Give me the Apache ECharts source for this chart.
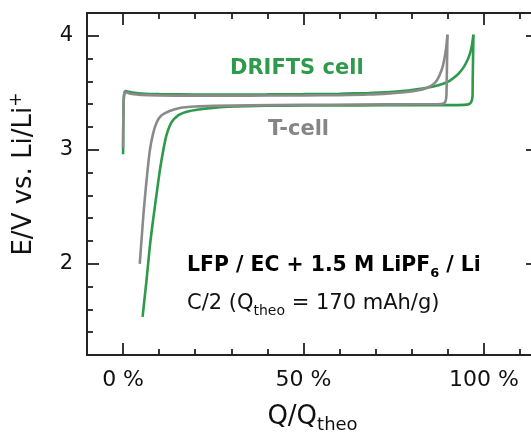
<!DOCTYPE html>
<html><head><meta charset="utf-8">
<script src="https://cdn.jsdelivr.net/npm/echarts@6/dist/echarts.min.js"></script>
<style>html,body{margin:0;padding:0;background:#fff}#c{width:531px;height:438px}</style>
</head><body><div id="c"></div>
<script>
// ---- tick values ----
const xMajorTicks = [0, 50, 100];
const xMinorTicks = [10, 20, 30, 40, 60, 70, 80, 90, 110];
const yMajorTicks = [2, 3, 4];
const yMinorTicks = [1.4, 1.6, 1.8, 2.2, 2.4, 2.6, 2.8, 3.2, 3.4, 3.6, 3.8];

// ---- DRIFTS cell (green) ----
const driftsChargeQ = [0, 0.05, 0.15, 0.35, 0.7, 1.2, 2.5, 5, 10, 20, 30, 40, 50, 60, 68, 74, 79, 83, 86, 88.5, 90.5, 92, 93.3, 94.5, 95.5, 96.2, 96.7, 97.1];
const driftsChargeE = [2.96, 3.2, 3.42, 3.50, 3.515, 3.512, 3.502, 3.494, 3.488, 3.485, 3.485, 3.486, 3.488, 3.492, 3.498, 3.507, 3.52, 3.537, 3.555, 3.577, 3.605, 3.64, 3.68, 3.73, 3.79, 3.85, 3.92, 4.01];
const driftsDischargeQ = [97.1, 97.0, 96.9, 96.85, 96.5, 95.8, 94.5, 90, 80, 65, 50, 40, 34.2, 29, 24.9, 21.5, 18.5, 16.5, 15.2, 13.4, 12.0, 11.1, 10.2, 9.3, 8.3, 7.4, 6.5, 5.4];
const driftsDischargeE = [4.01, 3.8, 3.6, 3.47, 3.42, 3.40, 3.394, 3.392, 3.392, 3.39, 3.388, 3.386, 3.383, 3.377, 3.368, 3.355, 3.34, 3.322, 3.30, 3.24, 3.125, 2.99, 2.82, 2.615, 2.38, 2.148, 1.857, 1.535];

// ---- T-cell (grey) ----
const tcellChargeQ = [0, 0.05, 0.15, 0.35, 0.7, 1.2, 2.5, 5, 10, 20, 30, 40, 50, 60, 68, 74, 78, 81.5, 84, 86, 87, 87.8, 88.5, 89, 89.4, 89.7, 89.9];
const tcellChargeE = [3.02, 3.22, 3.42, 3.495, 3.505, 3.50, 3.49, 3.482, 3.477, 3.475, 3.475, 3.476, 3.477, 3.48, 3.485, 3.495, 3.505, 3.52, 3.54, 3.575, 3.61, 3.66, 3.72, 3.79, 3.86, 3.94, 4.01];
const tcellDischargeQ = [89.9, 89.8, 89.7, 89.6, 89.3, 88.6, 87, 80, 65, 50, 35, 25, 20, 15.7, 12.9, 10.6, 9.3, 8.3, 7.4, 6.5, 5.74, 5.1, 4.62];
const tcellDischargeE = [4.01, 3.8, 3.6, 3.47, 3.42, 3.404, 3.40, 3.40, 3.397, 3.394, 3.39, 3.385, 3.38, 3.367, 3.34, 3.30, 3.24, 3.14, 2.99, 2.73, 2.47, 2.206, 2.00];

const FONT = 'DejaVu Sans';
const GREEN = '#2e9a4b';
const GREY = '#8a8a8a';
const AX = '#222';
const LW = 2.6;
const pairs = (q, e) => q.map((v, i) => [v, e[i]]);

function xAx(pos, ticks, len, labels, extra) {
  return Object.assign({
    type: 'value', position: pos, min: -10, max: 115, gridIndex: 0,
    axisLine: { show: labels, onZero: false, lineStyle: { color: AX, width: 2 } },
    axisTick: { show: true, inside: true, length: len, customValues: ticks, lineStyle: { color: AX, width: 1.8 } },
    axisLabel: labels ? { show: true, customValues: ticks, formatter: v => v + ' %', fontFamily: FONT, fontSize: 22, color: '#111', margin: 14 } : { show: false },
    splitLine: { show: false }
  }, extra || {});
}
function yAx(pos, ticks, len, labels, extra) {
  return Object.assign({
    type: 'value', position: pos, min: 1.2, max: 4.2, gridIndex: 0,
    axisLine: { show: labels, onZero: false, lineStyle: { color: AX, width: 2 } },
    axisTick: { show: true, inside: true, length: len, customValues: ticks, lineStyle: { color: AX, width: 1.8 } },
    axisLabel: labels ? { show: true, customValues: ticks, formatter: v => String(v), fontFamily: FONT, fontSize: 21, color: '#111', margin: 14 } : { show: false },
    splitLine: { show: false }
  }, extra || {});
}

const chart = echarts.init(document.getElementById('c'), null, { renderer: 'canvas' });
chart.setOption({
  animation: false,
  backgroundColor: '#fff',
  grid: { left: 87, right: -7, top: 13, bottom: 83, containLabel: false, outerBoundsMode: 'none' },
  xAxis: [
    xAx('bottom', xMajorTicks, 12, true, {
      name: '{a|Q/Q}{b|theo}', nameLocation: 'middle', nameGap: 45,
      nameTextStyle: { rich: {
        a: { fontFamily: FONT, fontSize: 26, color: '#111', lineHeight: 34 },
        b: { fontFamily: FONT, fontSize: 18, color: '#111', lineHeight: 12, verticalAlign: 'bottom' }
      } }
    }),
    xAx('bottom', xMinorTicks, 6, false),
    Object.assign(xAx('top', xMajorTicks, 12, false), { axisLine: { show: true, onZero: false, lineStyle: { color: AX, width: 2 } } }),
    xAx('top', xMinorTicks, 6, false)
  ],
  yAxis: [
    yAx('left', yMajorTicks, 12, true, {
      name: '{a|E/V vs. Li/Li}{b|+}', nameLocation: 'middle', nameGap: 47,
      nameTextStyle: { padding: [0, 0, 0, 20], rich: {
        a: { fontFamily: FONT, fontSize: 26, color: '#111', lineHeight: 32 },
        b: { fontFamily: FONT, fontSize: 17, color: '#111', lineHeight: 14, verticalAlign: 'top' }
      } }
    }),
    yAx('left', yMinorTicks, 6, false),
    Object.assign(yAx('right', yMajorTicks, 12, false), { axisLine: { show: true, onZero: false, lineStyle: { color: AX, width: 2 } } }),
    yAx('right', yMinorTicks, 6, false)
  ],
  series: [
    { name: 'DRIFTS cell discharge', type: 'line', data: pairs(driftsDischargeQ, driftsDischargeE), showSymbol: false, smooth: 0.25, lineStyle: { color: GREEN, width: LW }, itemStyle: { color: GREEN } },
    { name: 'DRIFTS cell charge', type: 'line', data: pairs(driftsChargeQ, driftsChargeE), showSymbol: false, smooth: 0.25, lineStyle: { color: GREEN, width: LW }, itemStyle: { color: GREEN } },
    { name: 'T-cell charge', type: 'line', data: pairs(tcellChargeQ, tcellChargeE), showSymbol: false, smooth: 0.25, lineStyle: { color: GREY, width: LW }, itemStyle: { color: GREY } },
    { name: 'T-cell discharge', type: 'line', data: pairs(tcellDischargeQ, tcellDischargeE), showSymbol: false, smooth: 0.25, lineStyle: { color: GREY, width: LW }, itemStyle: { color: GREY } }
  ],
  graphic: [
    { type: 'text', x: 230, y: 69, style: { text: 'DRIFTS cell', font: 'bold 21px "DejaVu Sans"', fill: GREEN, textAlign: 'left', textVerticalAlign: 'middle' } },
    { type: 'text', x: 268, y: 130, style: { text: 'T-cell', font: 'bold 21px "DejaVu Sans"', fill: '#858585', textAlign: 'left', textVerticalAlign: 'middle' } },
    { type: 'text', x: 187, y: 266, style: {
      text: '{a|LFP / EC + 1.5 M LiPF}{b|6}{a| / Li}', textAlign: 'left', textVerticalAlign: 'middle',
      rich: {
        a: { fontFamily: FONT, fontWeight: 'bold', fontSize: 20.4, fill: '#000', lineHeight: 28 },
        b: { fontFamily: FONT, fontWeight: 'bold', fontSize: 13, fill: '#000', lineHeight: 10, verticalAlign: 'bottom' }
      } } },
    { type: 'text', x: 187, y: 304, style: {
      text: '{a|C/2 (Q}{b|theo}{a| = 170 mAh/g)}', textAlign: 'left', textVerticalAlign: 'middle',
      rich: {
        a: { fontFamily: FONT, fontSize: 21, fill: '#111', lineHeight: 28 },
        b: { fontFamily: FONT, fontSize: 14, fill: '#111', lineHeight: 10, verticalAlign: 'bottom' }
      } } }
  ]
});
</script></body></html>
